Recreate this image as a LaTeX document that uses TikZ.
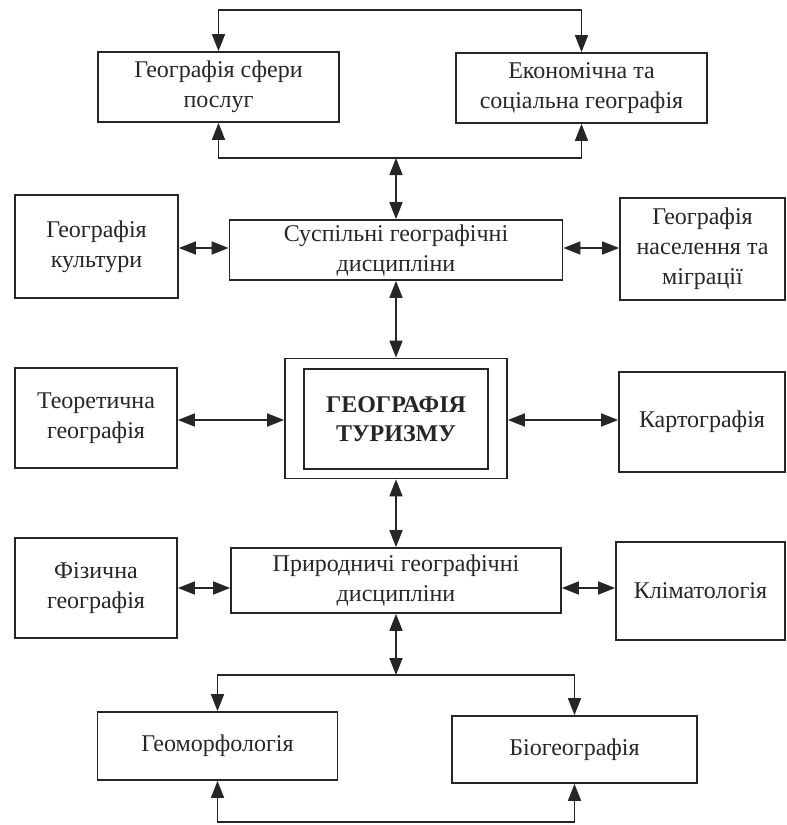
\documentclass[tikz,border=0pt]{standalone}
\usepackage{fontspec}
\setmainfont{Liberation Serif}
\usetikzlibrary{arrows.meta}
\begin{document}
\begin{tikzpicture}[x=1pt,y=-1pt,
  box/.style={draw=black!85, line width=1.7pt, align=center, inner sep=0pt, text=black!85,
    font=\fontsize{24}{30}\selectfont},
  both/.style={draw=black!85, line width=1.6pt,
    {Triangle[length=17pt,width=13pt]}-{Triangle[length=17pt,width=13pt]}},
]
\useasboundingbox (0,0) rectangle (787,825);
% top group
\node[box, minimum width=241pt, minimum height=70pt] (A) at (218.5,87) {Географія сфери\\послуг};
\node[box, minimum width=251pt, minimum height=70pt] (B) at (581.5,88) {Економічна та\\соціальна географія};
% social row
\node[box, minimum width=163pt, minimum height=103pt] (C) at (96.5,246.5) {Географія\\культури};
\node[box, minimum width=333pt, minimum height=60pt] (D) at (396,250) {Суспільні географічні\\дисципліни};
\node[box, minimum width=165pt, minimum height=102pt] (E) at (702.5,249) {Географія\\населення та\\міграції};
% central row
\node[box, minimum width=162pt, minimum height=100pt] (F) at (96,418) {Теоретична\\географія};
\node[box, minimum width=222pt, minimum height=120pt] (O) at (396,418.5) {};
\node[box, minimum width=184pt, minimum height=100pt, font=\fontsize{24}{29}\selectfont\bfseries] (T) at (396,419) {ГЕОГРАФІЯ\\ТУРИЗМУ};
\node[box, minimum width=166pt, minimum height=100pt] (G) at (702,422) {Картографія};
% natural row
\node[box, minimum width=162pt, minimum height=100pt] (I) at (96,588) {Фізична\\географія};
\node[box, minimum width=330pt, minimum height=65pt] (H) at (396,580.5) {Природничі географічні\\дисципліни};
\node[box, minimum width=169pt, minimum height=98pt] (J) at (700.5,591) {Кліматологія};
% bottom group
\node[box, minimum width=240pt, minimum height=68pt] (K) at (217.5,746) {Геоморфологія};
\node[box, minimum width=245pt, minimum height=67pt] (L) at (574.5,749.5) {Біогеографія};
% junctions
\coordinate (top) at (396,10);
\coordinate (j1) at (396,158);
\coordinate (j2) at (396,675);
\coordinate (bot) at (396,822);
\coordinate (y1) at (0,248);
\coordinate (y2) at (0,420);
\coordinate (y3) at (0,588);
% connectors
\draw[both] (A.north) |- (top) -| (B.north);
\draw[both] (A.south) |- (j1) -| (B.south);
\draw[both] (j1) -- (D.north);
\draw[both] (C.east |- y1) -- (D.west |- y1);
\draw[both] (D.east |- y1) -- (E.west |- y1);
\draw[both] (D.south) -- (O.north);
\draw[both] (F.east |- y2) -- (O.west |- y2);
\draw[both] (O.east |- y2) -- (G.west |- y2);
\draw[both] (O.south) -- (H.north);
\draw[both] (I.east |- y3) -- (H.west |- y3);
\draw[both] (H.east |- y3) -- (J.west |- y3);
\draw[both] (H.south) -- (j2);
\draw[both] (K.north) |- (j2) -| (L.north);
\draw[both] (K.south) |- (bot) -| (L.south);
\end{tikzpicture}
\end{document}
